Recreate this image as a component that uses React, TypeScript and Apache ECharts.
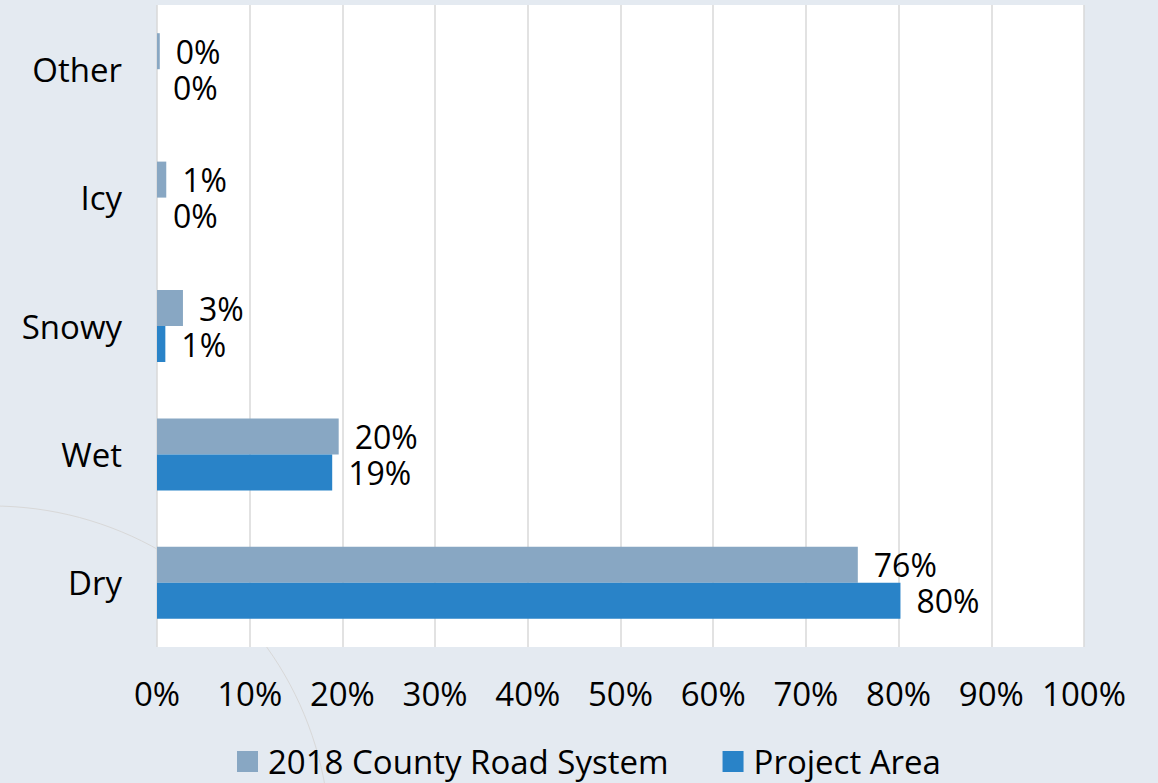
import React, { useEffect, useRef } from "react";
import * as echarts from "echarts";

const categories = ["Dry", "Wet", "Snowy", "Icy", "Other"];
const countyValues = [75.6, 19.6, 2.8, 1.0, 0.3];
const projectValues = [80.2, 18.9, 0.9, 0, 0];
const seriesNames = ["2018 County Road System", "Project Area"];
const xTicks = [0, 10, 20, 30, 40, 50, 60, 70, 80, 90, 100];

const FONT = "'Open Sans', 'Noto Sans', sans-serif";
const FS = 33;

export default function App() {
  const ref = useRef<HTMLDivElement>(null);
  useEffect(() => {
    if (!ref.current) return;
    const chart = echarts.init(ref.current, undefined, { renderer: "svg" });
    const labelCfg = {
      show: true,
      position: "right",
      distance: 16,
      color: "#000",
      fontSize: 32,
      lineHeight: 30,
      fontFamily: FONT,
      formatter: (p: any) => Math.round(p.value) + "%",
    };
    chart.setOption({
      animation: false,
      backgroundColor: "#e4eaf1",
      textStyle: { fontFamily: FONT },
      graphic: [
        {
          type: "circle",
          z: -10,
          silent: true,
          shape: { cx: -8, cy: 844, r: 338 },
          style: { fill: "none", stroke: "#d8d8d8", lineWidth: 1 },
        },
      ],
      grid: {
        left: 157,
        right: 74,
        top: 5,
        bottom: 136,
        show: true,
        backgroundColor: "#ffffff",
        borderWidth: 0,
      },
      legend: {
        data: seriesNames,
        top: 740,
        left: 232,
        itemWidth: 21,
        itemHeight: 21,
        itemGap: 54,
        icon: "rect",
        textStyle: {
          fontSize: FS,
          lineHeight: 30,
          color: "#000",
          fontFamily: FONT,
          padding: [0, 0, 0, 5],
        },
      },
      xAxis: {
        type: "value",
        min: 0,
        max: 100,
        interval: 10,
        axisLine: { show: false },
        axisTick: { show: false },
        splitLine: { show: true, lineStyle: { color: "#d9d9d9", width: 1.5 } },
        axisLabel: {
          margin: 30,
          fontSize: FS,
          color: "#000",
          fontFamily: FONT,
          formatter: (v: number) => (xTicks.includes(v) ? v + "%" : ""),
        },
      },
      yAxis: {
        type: "category",
        data: categories,
        axisLine: { show: false },
        axisTick: { show: false },
        axisLabel: { margin: 35, fontSize: FS, color: "#000", fontFamily: FONT },
      },
      series: [
        {
          name: seriesNames[0],
          type: "bar",
          data: countyValues,
          barWidth: 36,
          barGap: "0%",
          itemStyle: { color: "#88a7c3" },
          label: labelCfg,
        },
        {
          name: seriesNames[1],
          type: "bar",
          data: projectValues,
          barWidth: 36,
          barGap: "0%",
          itemStyle: { color: "#2983c8" },
          label: labelCfg,
        },
      ],
    });
    return () => chart.dispose();
  }, []);
  return (
    <div
      ref={ref}
      style={{ position: "fixed", left: 0, top: 0, width: 1158, height: 783 }}
    />
  );
}
